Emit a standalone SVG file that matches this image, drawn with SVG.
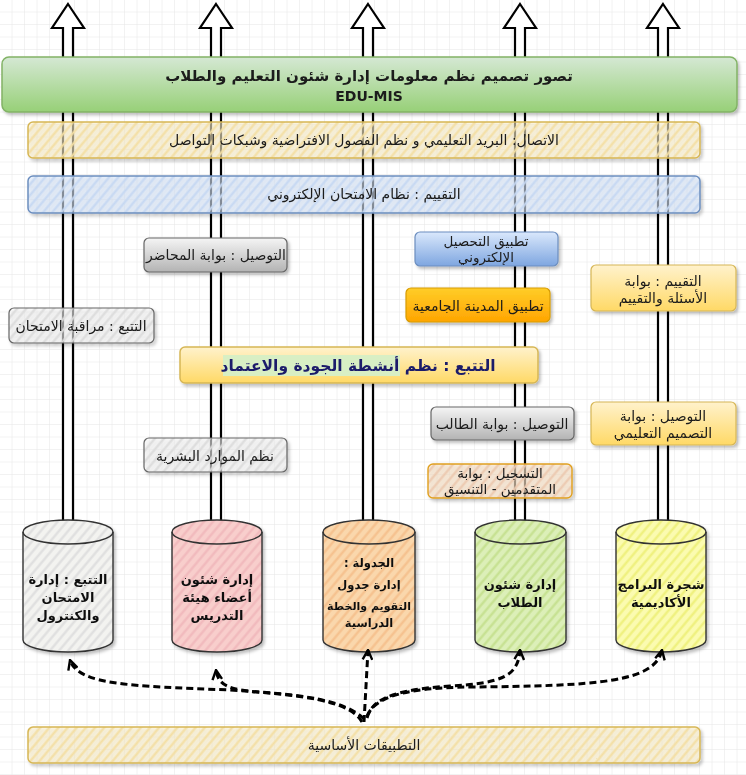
<svg xmlns="http://www.w3.org/2000/svg" width="746" height="775" viewBox="0 0 746 775">
<defs>
<pattern id="grid" width="12.5" height="12.5" patternUnits="userSpaceOnUse">
<path d="M12.5 0V12.5H0" fill="none" stroke="#e6e6e6" stroke-width="1"/>
</pattern>
<pattern id="hY" width="7" height="7" patternUnits="userSpaceOnUse" patternTransform="rotate(-50)">
<rect width="7" height="7" fill="#fff2cc" fill-opacity="0.55"/><line x1="0" y1="1.5" x2="7" y2="1.5" stroke="#f3dfa4" stroke-width="2.2"/>
</pattern>
<pattern id="hB" width="7" height="7" patternUnits="userSpaceOnUse" patternTransform="rotate(-50)">
<rect width="7" height="7" fill="#dae8fc" fill-opacity="0.55"/><line x1="0" y1="1.5" x2="7" y2="1.5" stroke="#c6d8f2" stroke-width="2.2"/>
</pattern>
<pattern id="hG" width="7" height="7" patternUnits="userSpaceOnUse" patternTransform="rotate(-50)">
<rect width="7" height="7" fill="#f5f5f5" fill-opacity="0.55"/><line x1="0" y1="1.5" x2="7" y2="1.5" stroke="#dcdcdc" stroke-width="2.2"/>
</pattern>
<pattern id="hP" width="7" height="7" patternUnits="userSpaceOnUse" patternTransform="rotate(-50)">
<rect width="7" height="7" fill="#f8cecc"/><line x1="0" y1="1.5" x2="7" y2="1.5" stroke="#f1b8bc" stroke-width="2.2"/>
</pattern>
<pattern id="hO" width="7" height="7" patternUnits="userSpaceOnUse" patternTransform="rotate(-50)">
<rect width="7" height="7" fill="#fad7ac"/><line x1="0" y1="1.5" x2="7" y2="1.5" stroke="#f5c08d" stroke-width="2.2"/>
</pattern>
<pattern id="hO2" width="7" height="7" patternUnits="userSpaceOnUse" patternTransform="rotate(-50)">
<rect width="7" height="7" fill="#fae3c8" fill-opacity="0.6"/><line x1="0" y1="1.5" x2="7" y2="1.5" stroke="#ecc9b0" stroke-width="2.2"/>
</pattern>
<pattern id="hGr" width="7" height="7" patternUnits="userSpaceOnUse" patternTransform="rotate(-50)">
<rect width="7" height="7" fill="#dcefb8"/><line x1="0" y1="1.5" x2="7" y2="1.5" stroke="#c5e08f" stroke-width="2.2"/>
</pattern>
<pattern id="hYl" width="7" height="7" patternUnits="userSpaceOnUse" patternTransform="rotate(-50)">
<rect width="7" height="7" fill="#fbfbb0"/><line x1="0" y1="1.5" x2="7" y2="1.5" stroke="#eef07a" stroke-width="2.2"/>
</pattern>
<pattern id="hLg" width="7" height="7" patternUnits="userSpaceOnUse" patternTransform="rotate(-50)">
<rect width="7" height="7" fill="#f3f3f0"/><line x1="0" y1="1.5" x2="7" y2="1.5" stroke="#dedede" stroke-width="2.2"/>
</pattern>
<linearGradient id="gGreen" x1="0" y1="0" x2="0" y2="1"><stop offset="0" stop-color="#d5e8d4"/><stop offset="1" stop-color="#97d077"/></linearGradient>
<linearGradient id="gGrey" x1="0" y1="0" x2="0" y2="1"><stop offset="0" stop-color="#f5f5f5"/><stop offset="1" stop-color="#b3b3b3"/></linearGradient>
<linearGradient id="gBlue" x1="0" y1="0" x2="0" y2="1"><stop offset="0" stop-color="#dae8fc"/><stop offset="1" stop-color="#7ea6e0"/></linearGradient>
<linearGradient id="gOrange" x1="0" y1="0" x2="0" y2="1"><stop offset="0" stop-color="#ffcd28"/><stop offset="1" stop-color="#ffa500"/></linearGradient>
<linearGradient id="gYellow" x1="0" y1="0" x2="0" y2="1"><stop offset="0" stop-color="#fff2cc"/><stop offset="1" stop-color="#ffd966"/></linearGradient>
<filter id="sh" x="-10%" y="-20%" width="120%" height="150%"><feDropShadow dx="2" dy="2.5" stdDeviation="1.5" flood-color="#000" flood-opacity="0.25"/></filter>
<marker id="open" viewBox="0 0 10 10" refX="9" refY="5" markerWidth="4" markerHeight="4" orient="auto" markerUnits="strokeWidth">
<path d="M1 1 L9 5 L1 9" fill="none" stroke="#000" stroke-width="2"/>
</marker>
</defs>
<style>
text{font-family:"DejaVu Sans",sans-serif;fill:#1a1a1a;text-anchor:middle;direction:rtl}
.t{font-size:14px}
.t2{font-size:13.5px}
.cyl text{font-size:13px;font-weight:bold;fill:#111}
.up{fill:#fff;stroke:#000;stroke-width:2.2;stroke-linejoin:miter}
.cyl path{stroke:#333;stroke-width:1.4}
.dash{fill:none;stroke:#000;stroke-width:3;stroke-dasharray:7 4;marker-end:url(#open)}
</style>
<rect width="746" height="775" fill="#fff"/>
<rect width="746" height="775" fill="url(#grid)"/>

<g id="up-arrows">
<path class="up" d="M68 4 L84 28 L73 28 L73 522 L63 522 L63 28 L52 28 Z"/>
<path class="up" d="M216 4 L232 28 L221 28 L221 522 L211 522 L211 28 L200 28 Z"/>
<path class="up" d="M368 4 L384 28 L373 28 L373 522 L363 522 L363 28 L352 28 Z"/>
<path class="up" d="M520 4 L536 28 L525 28 L525 522 L515 522 L515 28 L504 28 Z"/>
<path class="up" d="M663 4 L679 28 L668 28 L668 522 L658 522 L658 28 L647 28 Z"/>
</g>

<g id="title" filter="url(#sh)">
<rect x="2" y="57" width="735" height="55" rx="7" fill="url(#gGreen)" stroke="#82b366" stroke-width="1.5"/>
<text x="369" y="81" style="font-size:15px;font-weight:bold">تصور تصميم نظم معلومات إدارة شئون التعليم والطلاب</text>
<text x="369" y="101" style="font-size:14px;font-weight:bold;direction:ltr">EDU-MIS</text>
</g>

<g id="communication" filter="url(#sh)">
<rect x="28" y="122" width="672" height="36" rx="5" fill="url(#hY)" stroke="#d6b656" stroke-width="1.5"/>
<text class="t" x="364" y="145">الاتصال: البريد التعليمي و نظم الفصول الافتراضية وشبكات التواصل</text>
</g>

<g id="evaluation" filter="url(#sh)">
<rect x="28" y="176" width="672" height="37" rx="5" fill="url(#hB)" stroke="#6c8ebf" stroke-width="1.5"/>
<text class="t" x="364" y="199">التقييم : نظام الامتحان الإلكتروني</text>
</g>

<g id="lecturer-portal" filter="url(#sh)">
<rect x="144" y="238" width="143" height="34" rx="5" fill="url(#gGrey)" stroke="#666" stroke-width="1.2"/>
<text class="t" x="216" y="260">التوصيل : بوابة المحاضر</text>
</g>

<g id="exam-monitoring" filter="url(#sh)">
<rect x="9" y="308" width="145" height="35" rx="5" fill="url(#hG)" stroke="#666" stroke-width="1.2"/>
<text class="t" x="81" y="331">التتبع : مراقبة الامتحان</text>
</g>

<g id="quality" filter="url(#sh)">
<rect x="180" y="347" width="358" height="36" rx="5" fill="url(#gYellow)" stroke="#d6b656" stroke-width="1.5"/>
<rect x="223" y="355" width="177" height="21" fill="#d8efc4"/>
<text x="358" y="371" style="font-size:15.5px;font-weight:bold;fill:#1b1b6b">التتبع : نظم أنشطة الجودة والاعتماد</text>
</g>

<g id="hr" filter="url(#sh)">
<rect x="144" y="438" width="143" height="34" rx="5" fill="url(#hG)" stroke="#666" stroke-width="1.2"/>
<text class="t" x="215" y="461">نظم الموارد البشرية</text>
</g>

<g id="e-achievement" filter="url(#sh)">
<rect x="415" y="232" width="143" height="34" rx="5" fill="url(#gBlue)" stroke="#6c8ebf" stroke-width="1.2"/>
<text class="t2" x="486" y="246">تطبيق التحصيل</text>
<text class="t2" x="486" y="262">الإلكتروني</text>
</g>

<g id="university-city" filter="url(#sh)">
<rect x="406" y="288" width="144" height="34" rx="5" fill="url(#gOrange)" stroke="#d79b00" stroke-width="1.2"/>
<text class="t" x="478" y="311">تطبيق المدينة الجامعية</text>
</g>

<g id="questions-portal" filter="url(#sh)">
<rect x="591" y="265" width="145" height="46" rx="5" fill="url(#gYellow)" stroke="#d6b656" stroke-width="1.2"/>
<text class="t" x="663" y="286">التقييم : بوابة</text>
<text class="t" x="663" y="303">الأسئلة والتقييم</text>
</g>

<g id="student-portal" filter="url(#sh)">
<rect x="431" y="407" width="143" height="33" rx="5" fill="url(#gGrey)" stroke="#666" stroke-width="1.2"/>
<text class="t" x="502" y="429">التوصيل : بوابة الطالب</text>
</g>

<g id="design-portal" filter="url(#sh)">
<rect x="591" y="402" width="145" height="43" rx="5" fill="url(#gYellow)" stroke="#d6b656" stroke-width="1.2"/>
<text class="t" x="663" y="421">التوصيل : بوابة</text>
<text class="t" x="663" y="438">التصميم التعليمي</text>
</g>

<g id="applicants-portal" filter="url(#sh)">
<rect x="428" y="464" width="144" height="34" rx="5" fill="url(#hO2)" stroke="#e0a020" stroke-width="1.4"/>
<text class="t2" x="500" y="478">التسجيل : بوابة</text>
<text class="t2" x="500" y="494">المتقدمين - التنسيق</text>
</g>

<g id="cyl-exams" class="cyl" filter="url(#sh)">
<path d="M23 532 A45 12 0 0 1 113 532 L113 640 A45 12 0 0 1 23 640 Z" fill="url(#hLg)"/>
<path d="M23 532 A45 12 0 0 0 113 532" fill="none"/>
<text x="68" y="584">التتبع : إدارة</text>
<text x="68" y="602">الامتحان</text>
<text x="68" y="620">والكنترول</text>
</g>

<g id="cyl-staff" class="cyl" filter="url(#sh)">
<path d="M172 532 A45 12 0 0 1 262 532 L262 640 A45 12 0 0 1 172 640 Z" fill="url(#hP)"/>
<path d="M172 532 A45 12 0 0 0 262 532" fill="none"/>
<text x="217" y="584">إدارة شئون</text>
<text x="217" y="602">أعضاء هيئة</text>
<text x="217" y="620">التدريس</text>
</g>

<g id="cyl-schedule" class="cyl" filter="url(#sh)">
<path d="M323 532 A46 12 0 0 1 415 532 L415 640 A46 12 0 0 1 323 640 Z" fill="url(#hO)"/>
<path d="M323 532 A46 12 0 0 0 415 532" fill="none"/>
<text x="369" y="567" style="font-size:11.5px">الجدولة :</text>
<text x="369" y="589" style="font-size:11.5px">إدارة جدول</text>
<text x="369" y="610" style="font-size:11px">التقويم والخطة</text>
<text x="369" y="627" style="font-size:11.5px">الدراسية</text>
</g>

<g id="cyl-students" class="cyl" filter="url(#sh)">
<path d="M475 532 A45.5 12 0 0 1 566 532 L566 640 A45.5 12 0 0 1 475 640 Z" fill="url(#hGr)"/>
<path d="M475 532 A45.5 12 0 0 0 566 532" fill="none"/>
<text x="520" y="589">إدارة شئون</text>
<text x="520" y="607">الطلاب</text>
</g>

<g id="cyl-programs" class="cyl" filter="url(#sh)">
<path d="M616 532 A45 12 0 0 1 706 532 L706 640 A45 12 0 0 1 616 640 Z" fill="url(#hYl)"/>
<path d="M616 532 A45 12 0 0 0 706 532" fill="none"/>
<text x="661" y="589">شجرة البرامج</text>
<text x="661" y="607">الأكاديمية</text>
</g>

<g id="connectors">
<path class="dash" d="M362 722 C350 700 300 695 230 690 C130 686 78 685 70 660"/>
<path class="dash" d="M364 719 C345 700 300 695 260 692 C228 690 218 685 216 670"/>
<path class="dash" d="M364 722 L368 650"/>
<path class="dash" d="M367 718 C372 700 390 690 450 686 C505 683 518 675 520 650"/>
<path class="dash" d="M367 716 C375 698 400 688 470 687 C600 686 655 682 662 650"/>
</g>

<g id="core-apps" filter="url(#sh)">
<rect x="28" y="727" width="672" height="36" rx="5" fill="url(#hY)" stroke="#d6b656" stroke-width="1.5"/>
<text class="t" x="364" y="750">التطبيقات الأساسية</text>
</g>
</svg>
